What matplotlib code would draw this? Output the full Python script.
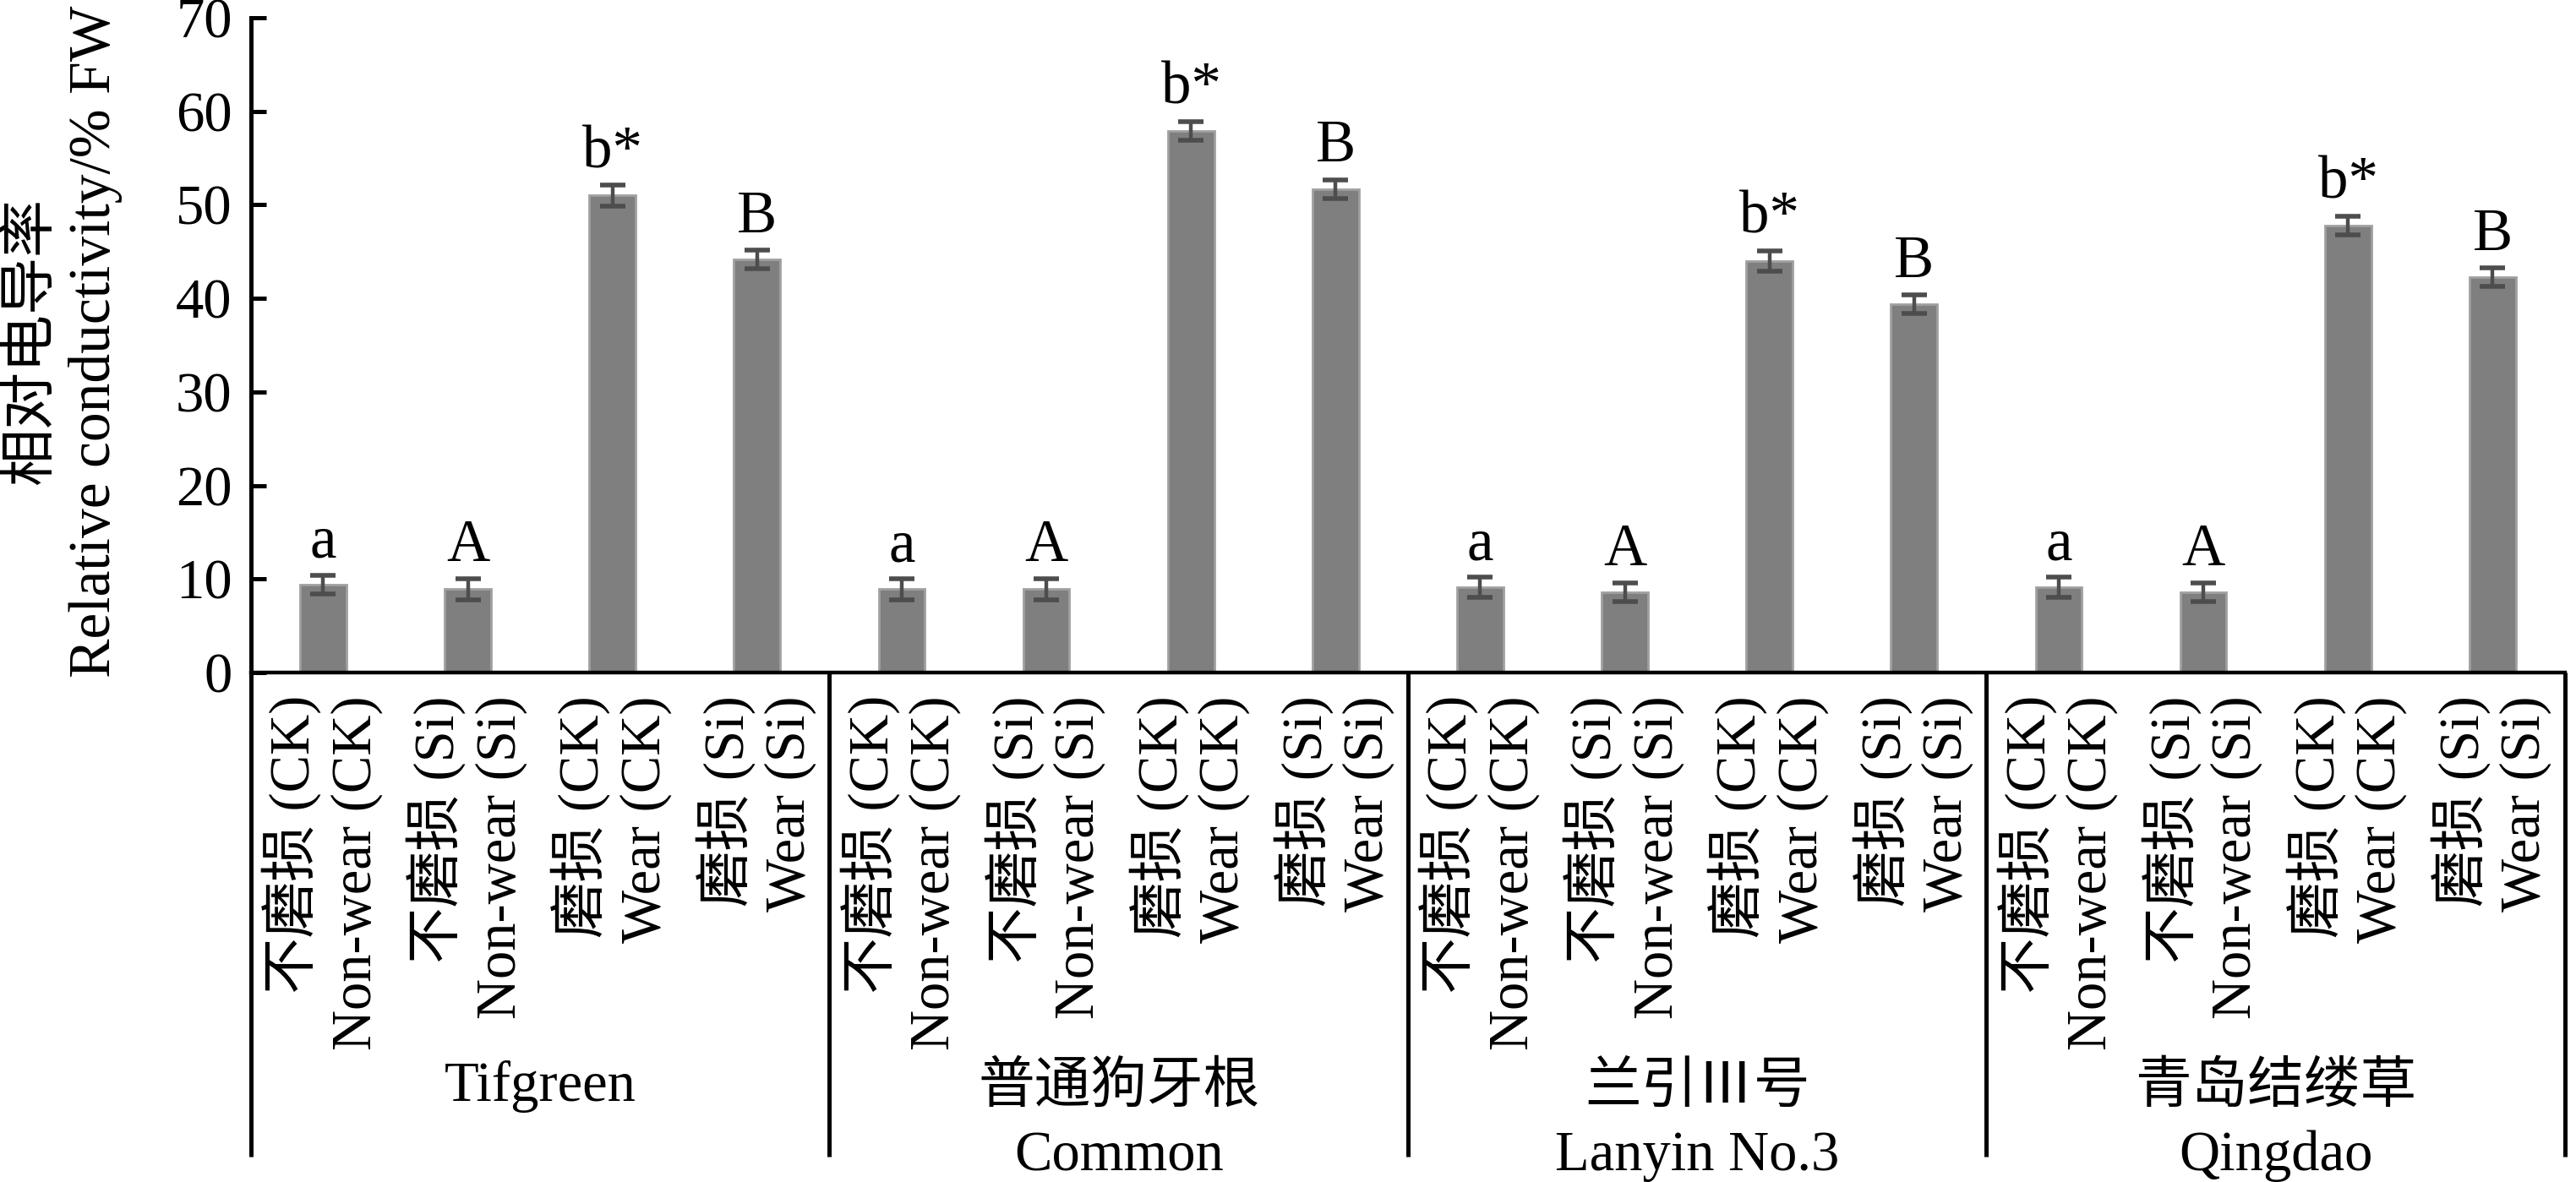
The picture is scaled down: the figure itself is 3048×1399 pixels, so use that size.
import matplotlib
matplotlib.use("Agg")
import matplotlib.pyplot as plt
import matplotlib.transforms as mtransforms
import numpy as np

FONT = ["Liberation Serif", "Noto Sans CJK SC", "DejaVu Sans"]
plt.rcParams["font.family"] = FONT

# ---------------------------------------------------------------------------
# Data
# ---------------------------------------------------------------------------
groups_cn = ["", "普通狗牙根", "兰引Ⅲ号", "青岛结缕草"]
groups_en = ["Tifgreen", "Common", "Lanyin No.3", "Qingdao"]

treat_cn = ["不磨损 (CK)", "不磨损 (Si)", "磨损 (CK)", "磨损 (Si)"]
treat_en = ["Non-wear (CK)", "Non-wear (Si)", "Wear (CK)", "Wear (Si)"]
letters = ["a", "A", "b*", "B"]

tifgreen = [9.4, 8.9, 51.0, 44.2]
common = [8.9, 8.9, 57.9, 51.7]
lanyin = [9.1, 8.6, 44.0, 39.4]
qingdao = [9.1, 8.6, 47.8, 42.3]

tifgreen_err = [1.0, 1.1, 1.1, 1.0]
common_err = [1.1, 1.1, 1.0, 1.0]
lanyin_err = [1.1, 1.0, 1.1, 1.0]
qingdao_err = [1.1, 1.0, 1.0, 1.0]

values = np.concatenate([tifgreen, common, lanyin, qingdao])
errors = np.concatenate([tifgreen_err, common_err, lanyin_err, qingdao_err])

n_per = len(treat_cn)
n_groups = len(groups_en)
x = np.arange(n_per * n_groups)

# ---------------------------------------------------------------------------
# Figure
# ---------------------------------------------------------------------------
fig = plt.figure(figsize=(15.24, 6.995), dpi=200)
ax = fig.add_axes([0.0974, 0.431, 0.8983, 0.554])

ax.bar(x, values, width=0.32, color="#7f7f7f", edgecolor="#a0a0a0",
       linewidth=1.0, zorder=2)
ax.errorbar(x, values, yerr=errors, fmt="none", ecolor="#4d4d4d",
            elinewidth=1.6, capsize=5.4, capthick=2.0, zorder=3)

for xi, v, e, lab in zip(x, values, errors, letters * n_groups):
    ax.text(xi, v + e + 1.9, lab, ha="center", va="baseline", fontsize=25.5)

ax.set_xlim(-0.5, n_per * n_groups - 0.5)
ax.set_ylim(0, 70)
ax.set_yticks(np.arange(0, 71, 10))
ax.tick_params(axis="y", direction="in", length=6.5, width=1.8, pad=8,
               labelsize=24)
ax.set_xticks([])

for side in ["top", "right"]:
    ax.spines[side].set_visible(False)
ax.spines["left"].set_linewidth(1.8)
ax.spines["bottom"].set_linewidth(1.6)

# label box below the axis: dividers between cultivars + right border
trans = mtransforms.blended_transform_factory(ax.transData, ax.transAxes)
box_bottom = -0.739
for b in np.arange(n_groups + 1) * n_per - 0.5:
    ax.plot([b, b], [0, box_bottom], color="black", lw=1.8,
            transform=trans, clip_on=False, solid_capstyle="butt")

# treatment labels (two rotated lines per bar)
for g in range(n_groups):
    for k in range(n_per):
        xi = g * n_per + k
        ax.text(xi - 0.22, -0.035, treat_cn[k], rotation=90, ha="center",
                va="top", fontsize=24, transform=trans)
        ax.text(xi + 0.23, -0.035, treat_en[k], rotation=90, ha="center",
                va="top", fontsize=24, transform=trans)

# cultivar labels
for g in range(n_groups):
    xc = g * n_per + (n_per - 1) / 2
    if groups_cn[g]:
        ax.text(xc, -0.657, groups_cn[g], ha="center", va="baseline",
                fontsize=24, transform=trans)
        ax.text(xc, -0.760, groups_en[g], ha="center", va="baseline",
                fontsize=24, transform=trans)
    else:
        ax.text(xc, -0.654, groups_en[g], ha="center", va="baseline",
                fontsize=24, transform=trans)

# y label: Chinese line + English line
fig.text(0.0125, 0.711, "相对电导率", rotation=90, ha="center", va="center",
         fontsize=24.5)
fig.text(0.0371, 0.711, "Relative conductivity/% FW", rotation=90,
         ha="center", va="center", fontsize=25)

fig.savefig("out.png", dpi=200)
